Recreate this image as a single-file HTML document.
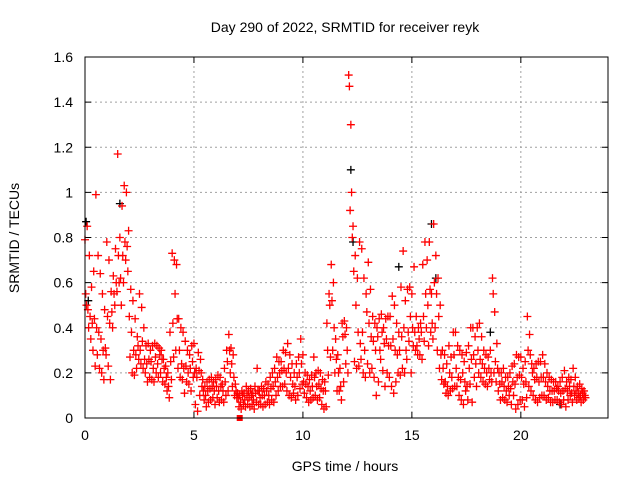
<!DOCTYPE html>
<html><head><meta charset="utf-8">
<style>
html,body{margin:0;padding:0;background:#fff;}
svg{display:block;font-family:"Liberation Sans",sans-serif;}
</style></head>
<body>
<svg id="chart" width="640" height="480" viewBox="0 0 640 480" xmlns="http://www.w3.org/2000/svg">
<rect x="0" y="0" width="640" height="480" fill="#fff"/>
<text x="345" y="32" text-anchor="middle" font-size="14" fill="#000">Day 290 of 2022, SRMTID for receiver reyk</text>
<text x="345" y="471" text-anchor="middle" font-size="14" fill="#000">GPS time / hours</text>
<text transform="translate(19,238) rotate(-90)" text-anchor="middle" font-size="14" fill="#000">SRMTID / TECUs</text>
<g id="grid"></g>
<g id="ticks"></g>
<g id="marks"></g>
<rect x="85" y="57" width="523" height="361" fill="none" stroke="#000" stroke-width="1"/>
</svg>
<script>
const xTicks=[0,5,10,15,20];
const yTicks=[0,0.2,0.4,0.6,0.8,1,1.2,1.4,1.6];
const yTickLabels=["0","0.2","0.4","0.6","0.8","1","1.2","1.4","1.6"];
const valsA=[.79,.85,.72,.58,.65,.99,.72,.64,.55,.48,
.78,.70,.56,.63,.75,1.17,.80,.94,1.03,1.00,
.83,.57,.52,.44,.36,.55,.49,.40,.32,.33,
.30,.32,.33,.32,.31,.30,.26,.23,.20,.38,
.73,.70,.68,.44,.40,.38,.34,.30,.28,.32,
.33,.22,.29,.26,.17,.14,.16,.17,.18,.16,
.17,.19,.18,.15,.22,.30,.37,.31,.28,.15,
.11,.10,.12,.11,.14,.12,.13,.11,.14,.22,
.12,.14,.13,.16,.15,.18,.20,.22,.27,.25,
.25,.30,.29,.33,.28,.24,.20,.24,.27,.35,
.28,.20,.19,.17,.19,.27,.20,.21,.20,.17,
.16,.42,.55,.68,.60,.35,.28,.22,.42,.43,
.40,1.52,1.30,.85,.72,.62,.78,.75,.62,.55,
.69,.57,.45,.42,.40,.44,.46,.40,.44,.45,
.45,.54,.50,.42,.38,.58,.74,.52,.57,.58,
.55,.67,.45,.40,.42,.68,.78,.70,.78,.55,
.86,.72,.62,.50,.30,.28,.24,.32,.27,.38,
.38,.32,.30,.28,.25,.29,.32,.40,.40,.36,
.40,.42,.36,.30,.28,.27,.30,.62,.47,.33,
.20,.20,.22,.18,.18,.20,.23,.24,.28,.27,
.27,.22,.25,.45,.37,.24,.22,.24,.25,.25,
.28,.24,.20,.18,.17,.16,.16,.14,.16,.18,
.21,.16,.18,.17,.22,.18,.14,.15,.13,.12];
const valsB=[.55,.48,.45,.42,.44,.40,.38,.35,.30,.31,
.45,.42,.47,.55,.60,.72,.62,.72,.78,.76,
.45,.38,.30,.28,.32,.30,.34,.26,.24,.26,
.25,.22,.27,.24,.28,.26,.22,.18,.14,.25,
.42,.55,.44,.30,.24,.22,.23,.20,.22,.25,
.20,.18,.21,.20,.12,.10,.12,.13,.14,.12,
.14,.12,.14,.12,.16,.25,.30,.24,.18,.12,
.09,.07,.10,.08,.10,.09,.10,.08,.11,.12,
.09,.10,.10,.12,.10,.13,.14,.16,.18,.20,
.21,.22,.20,.22,.18,.15,.14,.18,.20,.24,
.16,.15,.14,.12,.14,.18,.14,.15,.13,.12,
.12,.30,.50,.52,.40,.26,.20,.14,.36,.37,
.30,1.47,1.00,.65,.50,.38,.33,.38,.30,.47,
.42,.36,.34,.30,.36,.30,.38,.33,.35,.32,
.32,.35,.30,.28,.30,.36,.40,.30,.38,.45,
.40,.38,.32,.35,.38,.45,.55,.50,.57,.42,
.60,.55,.45,.28,.22,.16,.14,.20,.18,.28,
.22,.18,.17,.20,.16,.14,.22,.26,.28,.24,
.30,.26,.24,.22,.20,.22,.20,.55,.25,.22,
.15,.16,.14,.12,.14,.13,.16,.15,.18,.19,
.18,.15,.16,.30,.28,.20,.17,.18,.16,.18,
.18,.16,.14,.12,.12,.12,.13,.12,.11,.12,
.13,.12,.14,.11,.14,.12,.11,.10,.11,.10];
const valsC=[.50,.40,.35,.30,.23,.28,.22,.20,.17,.28,
.23,.17,.40,.50,.56,.60,.50,.60,.70,.65,
.27,.20,.19,.22,.26,.24,.22,.20,.16,.18,
.17,.16,.20,.18,.20,.16,.15,.12,.09,.17,
.27,.30,.22,.18,.17,.11,.16,.15,.12,.18,
.06,.03,.10,.14,.08,.05,.07,.08,.09,.06,
.09,.07,.08,.07,.10,.12,.20,.14,.10,.09,
.05,.04,.06,.05,.06,.05,.06,.04,.07,.06,
.06,.05,.06,.07,.06,.08,.07,.10,.12,.14,
.14,.15,.12,.10,.09,.11,.08,.10,.13,.15,
.11,.09,.07,.08,.09,.10,.08,.09,.06,.04,
.05,.19,.27,.30,.20,.12,.12,.08,.16,.24,
.20,.92,.80,.25,.22,.23,.26,.20,.18,.24,
.20,.22,.18,.10,.16,.26,.21,.14,.20,.18,
.14,.11,.16,.20,.19,.22,.20,.26,.34,.20,
.32,.30,.28,.28,.26,.34,.40,.32,.38,.35,
.40,.30,.22,.17,.15,.11,.10,.12,.13,.14,
.14,.10,.08,.06,.12,.08,.15,.07,.18,.14,
.20,.18,.16,.15,.14,.17,.16,.20,.16,.12,
.08,.09,.08,.07,.10,.06,.10,.04,.06,.08,
.08,.05,.09,.14,.12,.10,.08,.07,.09,.10,
.10,.08,.09,.07,.07,.08,.08,.07,.06,.08,
.05,.08,.10,.07,.10,.08,.09,.07,.08,.09];
const startHour=0, stepHours=0.1;
const blackTimes=[0.05,0.15,1.6,12.2,12.3,14.4,15.9,16.1,18.6,21.8];
const blackVals=[0.87,0.52,0.95,1.10,0.78,0.67,0.86,0.62,0.38,0.06];

const NS="http://www.w3.org/2000/svg";
const X0=85,X1=608,Y0=418,Y1=57,XMAX=24,YMAX=1.6;
function xs(v){return X0+(v/XMAX)*(X1-X0);}
function ys(v){return Y0-(v/YMAX)*(Y0-Y1);}
function mk(tag,attrs,parent){const e=document.createElementNS(NS,tag);for(const k in attrs)e.setAttribute(k,attrs[k]);parent.appendChild(e);return e;}
const grid=document.getElementById('grid'),ticks=document.getElementById('ticks'),marks=document.getElementById('marks');
xTicks.forEach(t=>{
  const x=xs(t);
  if(t>0){const g=mk('line',{x1:x,y1:Y0,x2:x,y2:Y1,stroke:'#a0a0a0','stroke-dasharray':'2,3','stroke-width':1},grid);
  
  }
  mk('line',{x1:x,y1:Y0,x2:x,y2:Y0-6,stroke:'#000'},ticks);
  mk('line',{x1:x,y1:Y1,x2:x,y2:Y1+6,stroke:'#000'},ticks);
  const l=mk('text',{x:x,y:Y0+22,'text-anchor':'middle','font-size':14,fill:'#000'},ticks);
  l.textContent=String(t);
  
  
});
yTicks.forEach((t,i)=>{
  const y=ys(t);
  if(t>0&&t<YMAX){const g=mk('line',{x1:X0,y1:y,x2:X1,y2:y,stroke:'#a0a0a0','stroke-dasharray':'2,3','stroke-width':1},grid);
  
  }
  mk('line',{x1:X0,y1:y,x2:X0+6,y2:y,stroke:'#000'},ticks);
  mk('line',{x1:X1,y1:y,x2:X1-6,y2:y,stroke:'#000'},ticks);
  const l=mk('text',{x:X0-12,y:y+5,'text-anchor':'end','font-size':14,fill:'#000'},ticks);
  l.textContent=yTickLabels[i];
  
  
});
function cross(t,v,color){
  const x=xs(t),y=ys(v);
  const p=mk('path',{d:`M${x-4},${y}h8M${x},${y-4}v8`,stroke:color,'stroke-width':1.3,fill:'none'},marks);
  
  
}
blackTimes.forEach((t,i)=>cross(t,blackVals[i],'#000'));
[valsA,valsB,valsC].forEach((arr,k)=>{
  arr.forEach((v,i)=>{cross(startHour+i*stepHours+k*0.033,v,'#ff0000');});
});
const sq=mk('rect',{x:xs(7.1)-3,y:Y0-3,width:6,height:6,fill:'#ff0000'},marks);


</script>
</body></html>
